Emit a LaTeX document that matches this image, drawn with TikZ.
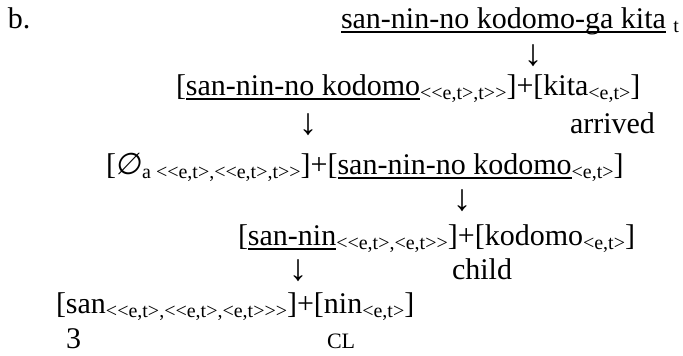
\documentclass[tikz,border=0pt]{standalone}
\usepackage{fontspec}
\setmainfont{Liberation Serif}[Ligatures=TeXOff]
\newfontfamily\symfont{DejaVu Sans}[FakeSlant=0.15]
\newsavebox\ulbox
\newcommand\sbs[1]{\raisebox{-4pt}{\fontsize{20}{20}\selectfont #1}}
\newcommand\ulx[1]{\sbox\ulbox{#1}\rlap{\rule[-5pt]{\wd\ulbox}{2pt}}\usebox\ulbox}
\begin{document}
\begin{tikzpicture}[x=1pt,y=1pt,
  every node/.style={inner sep=0pt, outer sep=0pt, font=\fontsize{30}{30}\selectfont},
  row/.style={anchor=base west},
  arr/.style={anchor=base, font=\fontsize{37}{37}\selectfont}]
\useasboundingbox (0,0) rectangle (683,-356);
\node[row] (lbl) at (8,-28) {b.};
\node[row] (r1) at (341,-28) {\ulx{san-nin-no kodomo-ga kita} \sbs{t}};
\node[arr] (a1) at (533,-65) {↓};
\node[row] (r2) at (176,-95) {[\ulx{san-nin-no kodomo}\sbs{<<e,t>,t>>}]+[kita\sbs{<e,t>}]};
\node[arr] (a2) at (308,-134) {↓};
\node[row] (g2) at (570,-133) {arrived};
\node[row] (r3) at (106,-174) {[{\symfont ∅}\sbs{a <<e,t>,<<e,t>,t>>}]+[\ulx{san-nin-no kodomo}\sbs{<e,t>}]};
\node[arr] (a3) at (462,-210) {↓};
\node[row] (r4) at (238,-245) {[\ulx{san-nin}\sbs{<<e,t>,<e,t>>}]+[kodomo\sbs{<e,t>}]};
\node[arr] (a4) at (298,-280) {↓};
\node[row] (g4) at (452,-279) {child};
\node[row] (r5) at (56,-313) {[san\sbs{<<e,t>,<<e,t>,<e,t>>>}]+[nin\sbs{<e,t>}]};
\node[row] (g5a) at (66,-348) {3};
\node[row, font=\fontsize{22}{22}\selectfont] (g5b) at (327,-348) {CL};
\end{tikzpicture}
\end{document}
